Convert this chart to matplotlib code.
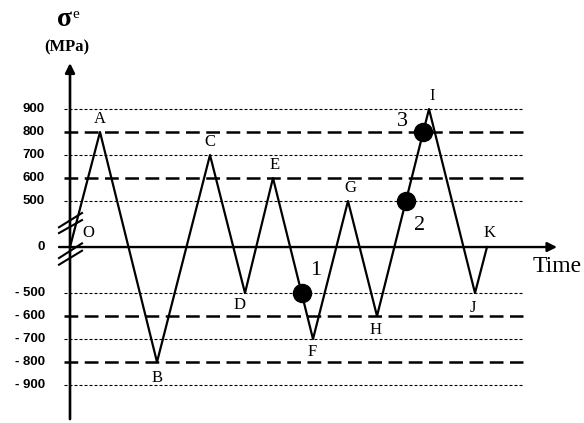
import numpy as np
import matplotlib.pyplot as plt

# Loading history: turning points (time in arbitrary units, stress in MPa)
points = ['O', 'A', 'B', 'C', 'D', 'E', 'F', 'G', 'H', 'I', 'J', 'K']
time = [0, 30, 87, 140, 175, 203, 243, 278, 307, 359, 405, 417]
stress = [0, 800, -800, 700, -500, 600, -700, 500, -600, 900, -500, 0]

# Marked states on the load path
mark_ids = ['1', '2', '3']
mark_time = [231.6, 335.8, 353.0]
mark_stress = [-500, 500, 800]

tick_vals = [900, 800, 700, 600, 500, 0, -500, -600, -700, -800, -900]
tick_text = ['900', '800', '700', '600', '500', '0',
             '- 500', '- 600', '- 700', '- 800', '- 900']
dashed_levels = [800, 600, -600, -800]
dotted_levels = [900, 700, 500, -500, -700, -900]


# broken stress axis: 0..500 squeezed, 100 MPa per unit beyond 500
def fwd(v):
    v = np.asarray(v, dtype=float)
    a = np.abs(v)
    return np.where(a < 500, v / 250.0, np.sign(v) * (2 + (a - 500) / 100.0))


def inv(u):
    u = np.asarray(u, dtype=float)
    a = np.abs(u)
    return np.where(a < 2, u * 250.0, np.sign(u) * (500 + (a - 2) * 100.0))


serif = 'Liberation Serif'
sans = 'Liberation Sans'
PX = 0.72  # points per pixel at 100 dpi

fig = plt.figure(figsize=(5.84, 4.23), dpi=100)
ax = fig.add_axes([0, 0, 1, 1])
ax.set_yscale('function', functions=(fwd, inv))
ax.set_xlim(-70, 514)
ax.set_ylim(-1065, 1374)
ax.axis('off')

# reference levels
for v in dashed_levels:
    ax.plot([-6, 453], [v, v], color='black', lw=1.8, dashes=(5.5, 2.6))
for v in dotted_levels:
    ax.plot([-6, 453], [v, v], color='black', lw=0.8, dashes=(2.7, 1.8))

# axes with arrows
ax.annotate('', xy=(0, 1100), xytext=(0, -1048),
            arrowprops=dict(arrowstyle='-|>', color='black', lw=1.9,
                            mutation_scale=14, shrinkA=0, shrinkB=0))
ax.annotate('', xy=(487, 0), xytext=(-11, 0),
            arrowprops=dict(arrowstyle='-|>', color='black', lw=1.7,
                            mutation_scale=14, shrinkA=0, shrinkB=0))

# axis break marks
for y0, y1 in [(152, 293), (215, 370)]:
    ax.plot([-11, 12], [y0, y1], color='black', lw=1.5)
for y0, y1 in [(-120, 40), (-192, -40)]:
    ax.plot([-11, 12], [y0, y1], color='black', lw=1.5)

# load path
ax.plot(time, stress, color='black', lw=1.6, zorder=3)
ax.plot(mark_time, mark_stress, 'o', color='black', ms=13, zorder=4)

# tick labels
for v, t in zip(tick_vals, tick_text):
    ax.text(-25, v, t, ha='right', va='center', fontsize=9.5,
            fontweight='bold', family=sans)

# point letters (offsets in pixels)
offsets = {'O': (18, 14), 'A': (0, 13), 'B': (0, -16), 'C': (0, 13),
           'D': (-5, -12), 'E': (2, 13), 'F': (-1, -13), 'G': (2, 13),
           'H': (-1, -14), 'I': (3, 13), 'J': (-2, -15), 'K': (3, 14)}
for p, t, s in zip(points, time, stress):
    dx, dy = offsets[p]
    ax.annotate(p, (t, s), xytext=(dx * PX, dy * PX),
                textcoords='offset points', ha='center', va='center',
                fontsize=12, family=serif)

# marker numbers
num_offsets = [(14, 23), (14, -24), (-21, 11)]
for m, t, s, (dx, dy) in zip(mark_ids, mark_time, mark_stress, num_offsets):
    ax.annotate(m, (t, s), xytext=(dx * PX, dy * PX),
                textcoords='offset points', ha='center', va='center',
                fontsize=16, family=serif)

fig.text(557 / 584, 1 - 266 / 423, 'Time', ha='center', va='center',
         fontsize=17, family=serif)
fig.text(64 / 584, 1 - 20 / 423, 'σ', ha='center', va='center',
         fontsize=20, fontweight='bold', family=serif)
fig.text(76 / 584, 1 - 14 / 423, 'e', ha='center', va='center',
         fontsize=11, family=serif)
fig.text(67 / 584, 1 - 47 / 423, '(MPa)', ha='center', va='center',
         fontsize=12, fontweight='bold', family=serif)

fig.savefig('out.png', dpi=100)
